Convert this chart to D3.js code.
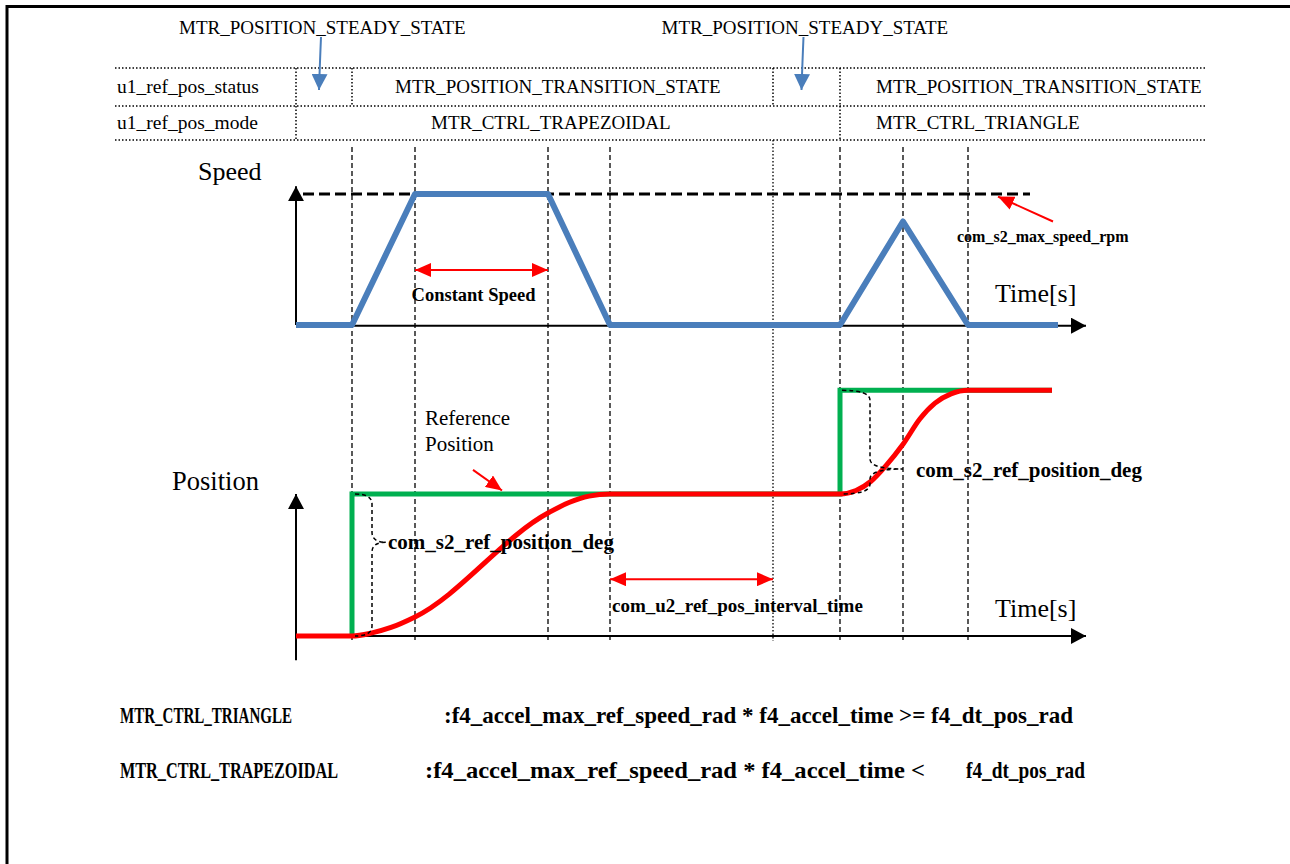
<!DOCTYPE html>
<html lang="en">
<head>
<meta charset="utf-8">
<title>Reference position timing</title>
<script src="https://d3js.org/d3.v7.min.js"></script>
<style>
  body { margin: 0; background: #fff; }
</style>
</head>
<body>
<script>
const width = 1290, height = 864;

// event times (one per dashed guide line), arbitrary time units
const eventTimes = [5.6, 11.9, 25.2, 31.4, 54.4, 60.7, 67.2];
const intervalEnd = 47.7;

// speed profile (1 = com_s2_max_speed_rpm)
const speedTime  = [0, 5.6, 11.9, 25.2, 31.4, 54.4, 60.7, 67.2, 76.2];
const speedValue = [0, 0, 1, 1, 0, 0, 0.79, 0, 0];

// commanded position step and reference position
const cmdTime  = [5.6, 5.6, 54.4, 54.4, 75.6];
const cmdValue = [0, 1, 1, 1.73, 1.73];
const refTime  = [0, 5.6, 7.5, 9.5, 11.9, 25.2, 27.3, 29.3, 31.4, 54.4, 56.0, 57.5, 59.0, 60.7, 62.4, 63.9, 65.5, 67.2, 75.6];
const refValue = [0, 0, 0.02, 0.06, 0.134, 0.866, 0.94, 0.985, 1, 1, 1.025, 1.09, 1.2, 1.35, 1.53, 1.64, 1.705, 1.73, 1.73];

// status / mode table
const rowNames = ["u1_ref_pos_status", "u1_ref_pos_mode"];
const statusFrom  = [0, 5.6, 47.7, 54.4];
const statusLabel = ["", "MTR_POSITION_TRANSITION_STATE", "", "MTR_POSITION_TRANSITION_STATE"];
const modeFrom  = [0, 54.4];
const modeLabel = ["MTR_CTRL_TRAPEZOIDAL", "MTR_CTRL_TRIANGLE"];
const steadyLabel = "MTR_POSITION_STEADY_STATE";

// condition notes
const noteNames = ["MTR_CTRL_TRIANGLE", "MTR_CTRL_TRAPEZOIDAL"];
const noteConds = [[":f4_accel_max_ref_speed_rad * f4_accel_time >= f4_dt_pos_rad"],
                   [":f4_accel_max_ref_speed_rad * f4_accel_time <", "f4_dt_pos_rad"]];

const x = d3.scaleLinear().domain([0, 79]).range([296, 1086]);
const ySpeed = d3.scaleLinear().domain([0, 1]).range([325, 194]);
const yPos = d3.scaleLinear().domain([0, 1]).range([636, 494]);

const blue = "#4a7ebb", red = "#ff0000", green = "#00b050";
const serif = "'Liberation Serif', 'DejaVu Serif', 'Times New Roman', serif";

const svg = d3.select("body").append("svg")
    .attr("width", width).attr("height", height)
    .attr("font-family", serif);

svg.append("rect").attr("width", width).attr("height", height).attr("fill", "#fff");

// arrow markers
const defs = svg.append("defs");
function marker(id, color, len, half) {
  defs.append("marker")
      .attr("id", id)
      .attr("markerUnits", "userSpaceOnUse")
      .attr("viewBox", `0 ${-half} ${len} ${half * 2}`)
      .attr("refX", len).attr("refY", 0)
      .attr("markerWidth", len).attr("markerHeight", half * 2)
      .attr("orient", "auto-start-reverse")
    .append("path")
      .attr("d", `M0,${-half}L${len},0L0,${half}Z`)
      .attr("fill", color);
}
marker("blk", "#000", 15, 8);
marker("red", red, 16, 7);
marker("blu", blue, 16, 8);

// page frame
svg.append("path").attr("d", "M7,864V6.5H1290")
    .attr("fill", "none").attr("stroke", "#000").attr("stroke-width", 3);

// ---- table ----
const rowY = [68, 106, 140];
const tableL = 115, tableR = 1207;
const dotted = "1.5,2";

svg.selectAll(".hrow").data(rowY).enter().append("line")
    .attr("x1", tableL).attr("x2", tableR)
    .attr("y1", d => d).attr("y2", d => d)
    .attr("stroke", "#000").attr("stroke-width", 1.5).attr("stroke-dasharray", dotted);

// status separators
svg.selectAll(".vstat").data(statusFrom).enter().append("line")
    .attr("x1", d => x(d)).attr("x2", d => x(d))
    .attr("y1", rowY[0]).attr("y2", rowY[1])
    .attr("stroke", "#000").attr("stroke-width", 1.5).attr("stroke-dasharray", dotted);
// mode separators
svg.selectAll(".vmode").data(modeFrom).enter().append("line")
    .attr("x1", d => x(d)).attr("x2", d => x(d))
    .attr("y1", rowY[1]).attr("y2", rowY[2])
    .attr("stroke", "#000").attr("stroke-width", 1.5).attr("stroke-dasharray", dotted);

svg.selectAll(".rowname").data(rowNames).enter().append("text")
    .attr("x", tableL + 2).attr("y", (d, i) => (rowY[i] + rowY[i + 1]) / 2 + 6)
    .attr("font-size", 19.5).text(d => d);

const statusPad = [0, 43, 0, 36];
svg.selectAll(".stat").data(statusLabel).enter().append("text")
    .attr("x", (d, i) => x(statusFrom[i]) + statusPad[i])
    .attr("y", (rowY[0] + rowY[1]) / 2 + 6)
    .attr("font-size", 19).text(d => d);

const modePad = [135, 36];
svg.selectAll(".mode").data(modeLabel).enter().append("text")
    .attr("x", (d, i) => x(modeFrom[i]) + modePad[i])
    .attr("y", (rowY[1] + rowY[2]) / 2 + 6)
    .attr("font-size", 19).text(d => d);

// steady-state callouts with blue arrows
const steadyCells = [[statusFrom[0], statusFrom[1]], [statusFrom[2], statusFrom[3]]];
steadyCells.forEach(c => {
  const ax = (x(c[0]) + x(c[1])) / 2 - 5;
  svg.append("text").attr("x", ax - 140).attr("y", 34)
      .attr("font-size", 19).text(steadyLabel);
  svg.append("path")
      .attr("d", `M${ax + 2},37 Q${ax + 1},60 ${ax},90`)
      .attr("fill", "none").attr("stroke", blue).attr("stroke-width", 2)
      .attr("marker-end", "url(#blu)");
});

// ---- guide lines ----
svg.selectAll(".guide").data(eventTimes).enter().append("line")
    .attr("x1", d => x(d)).attr("x2", d => x(d))
    .attr("y1", 147).attr("y2", 641)
    .attr("stroke", "#000").attr("stroke-width", 1.3).attr("stroke-dasharray", "5,3");
svg.append("line")
    .attr("x1", x(intervalEnd)).attr("x2", x(intervalEnd))
    .attr("y1", rowY[2]).attr("y2", 641)
    .attr("stroke", "#000").attr("stroke-width", 1.3).attr("stroke-dasharray", dotted);

// ---- speed chart ----
const speedPts = speedTime.map((t, i) => [t, speedValue[i]]);
const lineS = d3.line().x(d => x(d[0])).y(d => ySpeed(d[1]));
const lineP = d3.line().x(d => x(d[0])).y(d => yPos(d[1]));

svg.append("path").attr("d", lineS([[0, 0], [0, 1.06]]))
    .attr("stroke", "#000").attr("stroke-width", 2).attr("marker-end", "url(#blk)");
svg.append("path").attr("d", lineS([[0, -0.005], [79, -0.005]]))
    .attr("stroke", "#000").attr("stroke-width", 2).attr("marker-end", "url(#blk)");

svg.append("path").attr("d", lineS([[0.7, 1], [73.4, 1]]))
    .attr("stroke", "#000").attr("stroke-width", 3).attr("stroke-dasharray", "11,5");

svg.append("path").attr("d", lineS(speedPts))
    .attr("fill", "none").attr("stroke", blue).attr("stroke-width", 6)
    .attr("stroke-linejoin", "round");

svg.append("text").attr("x", 198).attr("y", 180).attr("font-size", 26).text("Speed");
svg.append("text").attr("x", 995).attr("y", 302).attr("font-size", 26).text("Time[s]");

// max speed callout
svg.append("path").attr("d", lineS([[75.7, 0.79], [70.2, 0.98]]))
    .attr("stroke", red).attr("stroke-width", 2).attr("marker-end", "url(#red)");
svg.append("text").attr("x", x(66.1)).attr("y", 242)
    .attr("font-size", 16).attr("font-weight", "bold").text("com_s2_max_speed_rpm");

// constant speed span
svg.append("path").attr("d", lineS([[eventTimes[1], 0.42], [eventTimes[2], 0.42]]))
    .attr("stroke", red).attr("stroke-width", 2)
    .attr("marker-start", "url(#red)").attr("marker-end", "url(#red)");
svg.append("text").attr("x", x((eventTimes[1] + eventTimes[2]) / 2) - 8).attr("y", 301)
    .attr("text-anchor", "middle").attr("font-size", 18.5).attr("font-weight", "bold")
    .text("Constant Speed");

// ---- position chart ----
svg.append("path").attr("d", lineP([[0, -0.17], [0, 1.0]]))
    .attr("stroke", "#000").attr("stroke-width", 2).attr("marker-end", "url(#blk)");
svg.append("path").attr("d", lineP([[0, 0], [79, 0]]))
    .attr("stroke", "#000").attr("stroke-width", 2).attr("marker-end", "url(#blk)");

svg.append("path").attr("d", lineP(cmdTime.map((t, i) => [t, cmdValue[i]])))
    .attr("fill", "none").attr("stroke", green).attr("stroke-width", 5);
svg.append("path")
    .attr("d", lineP.curve(d3.curveMonotoneX)(refTime.map((t, i) => [t, refValue[i]])))
    .attr("fill", "none").attr("stroke", red).attr("stroke-width", 5);
lineP.curve(d3.curveLinear);

svg.append("text").attr("x", 172).attr("y", 490).attr("font-size", 26.5).text("Position");
svg.append("text").attr("x", 995).attr("y", 617).attr("font-size", 26).text("Time[s]");

// braces
function brace(xa, xs, xt, yt, ym, yb) {
  const r = Math.min(10, (ym - yt) / 2, (yb - ym) / 2);
  return `M${xa},${yt}Q${xs},${yt} ${xs},${yt + r}L${xs},${ym - r}Q${xs},${ym} ${xt},${ym}` +
         `Q${xs},${ym} ${xs},${ym + r}L${xs},${yb - r}Q${xs},${yb} ${xa},${yb}`;
}
svg.append("path")
    .attr("d", brace(x(5.9), x(7.6), x(9.0), yPos(1), yPos(0.66), yPos(0)))
    .attr("fill", "none").attr("stroke", "#000").attr("stroke-width", 1.5).attr("stroke-dasharray", "4,3");
svg.append("text").attr("x", x(9.2)).attr("y", yPos(0.61))
    .attr("font-size", 21).attr("font-weight", "bold").text("com_s2_ref_position_deg");

svg.append("path")
    .attr("d", brace(x(54.6), x(57.4), x(60.7), yPos(1.73), yPos(1.176), yPos(1.0)))
    .attr("fill", "none").attr("stroke", "#000").attr("stroke-width", 1.5).attr("stroke-dasharray", "4,3");
svg.append("text").attr("x", x(62.0)).attr("y", yPos(1.12))
    .attr("font-size", 21).attr("font-weight", "bold").text("com_s2_ref_position_deg");

// reference position callout
svg.append("text").attr("x", x(12.9)).attr("y", 425).attr("font-size", 21).text("Reference");
svg.append("text").attr("x", x(12.9)).attr("y", 451).attr("font-size", 21).text("Position");
svg.append("path").attr("d", lineP([[17.7, 1.17], [20.6, 1.025]]))
    .attr("stroke", red).attr("stroke-width", 2).attr("marker-end", "url(#red)");

// interval span
svg.append("path").attr("d", lineP([[eventTimes[3], 0.40], [intervalEnd, 0.40]]))
    .attr("stroke", red).attr("stroke-width", 2)
    .attr("marker-start", "url(#red)").attr("marker-end", "url(#red)");
svg.append("text").attr("x", x(eventTimes[3]) + 2).attr("y", 612)
    .attr("font-size", 19).attr("font-weight", "bold").text("com_u2_ref_pos_interval_time");

// ---- condition notes ----
const noteY = [723, 778];
const condX = [[444], [425, 966]];
const condLen = [[629], [500, 119]];
const nameLen = [172, 218];
noteNames.forEach((n, i) => {
  svg.append("text").attr("x", 120).attr("y", noteY[i])
      .attr("font-size", 23).attr("font-weight", "bold")
      .attr("textLength", nameLen[i]).attr("lengthAdjust", "spacingAndGlyphs").text(n);
  noteConds[i].forEach((c, j) => {
    svg.append("text").attr("x", condX[i][j]).attr("y", noteY[i])
        .attr("font-size", 23).attr("font-weight", "bold")
        .attr("textLength", condLen[i][j]).attr("lengthAdjust", "spacingAndGlyphs").text(c);
  });
});
</script>
</body>
</html>
